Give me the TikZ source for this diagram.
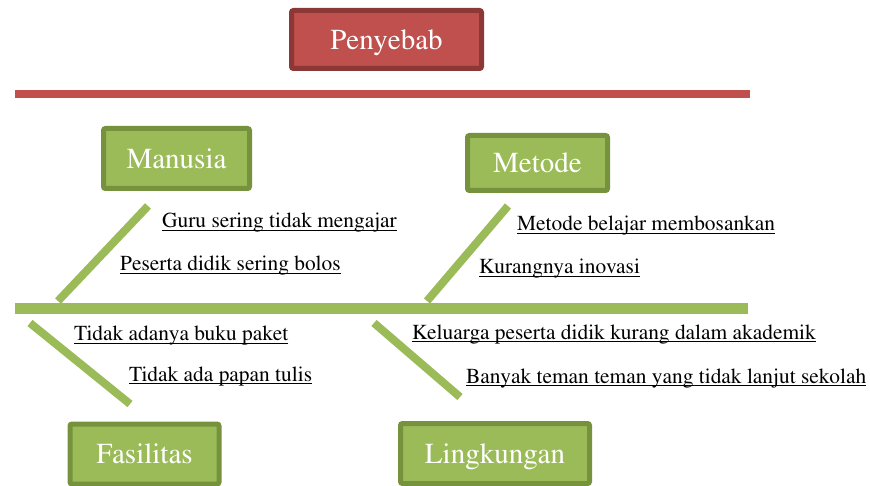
\documentclass[tikz,border=0pt]{standalone}
\usepackage[T1]{fontenc}
\usepackage{mathptmx}
\definecolor{redfill}{HTML}{C0504D}
\definecolor{redline}{HTML}{8C3836}
\definecolor{grfill}{HTML}{9BBB59}
\definecolor{grline}{HTML}{76923C}
\tikzset{
  boxbase/.style={line width=5pt, rounded corners=2pt, text=white,
    font=\rmfamily\fontsize{29}{32}\selectfont, text height=19.5pt, text depth=0pt,
    inner sep=0pt},
  headbox/.style={boxbase, draw=redline, fill=redfill},
  catbox/.style={boxbase, draw=grline, fill=grfill},
  bone/.style={draw=grfill, line width=8pt, line cap=butt},
  spine/.style={draw=grfill, line width=11pt, line cap=butt},
  redspine/.style={draw=redfill, line width=8pt, line cap=butt},
  cause/.style={anchor=base west, inner sep=0pt, text=black,
    font=\rmfamily\fontsize{21.4}{24}\selectfont},
  uline/.style={draw=black, line width=1.1pt},
}
\newcommand{\ulcause}[1]{\draw[uline] ([yshift=-2.6pt]#1.base west) -- ([yshift=-2.6pt]#1.base east);}
\begin{document}
\begin{tikzpicture}[x=1pt,y=-1pt]
\useasboundingbox (0,0) rectangle (870,486);
% head
\node[headbox, minimum width=190pt, minimum height=58pt] (head) at (386.5,39.5) {Penyebab};
% red line
\coordinate (r1) at (15,94);
\coordinate (r2) at (750,94);
\draw[redspine] (r1) -- (r2);
% main spine
\coordinate (s1) at (15,308.5);
\coordinate (s2) at (748,308.5);
\draw[spine] (s1) -- (s2);
% category boxes
\node[catbox, minimum width=146pt, minimum height=60pt] (manusia) at (176.5,158.5) {Manusia};
\node[catbox, minimum width=140pt, minimum height=55pt] (metode) at (537.5,163) {Metode};
\node[catbox, minimum width=149pt, minimum height=60pt] (fasilitas) at (144.5,454) {Fasilitas};
\node[catbox, minimum width=189pt, minimum height=60pt] (lingkungan) at (495,453.5) {Lingkungan};
% bones
\coordinate (m1) at (58,301);
\coordinate (m2) at (148,206);
\draw[bone] (m1) -- (m2);
\coordinate (t1) at (427,301);
\coordinate (t2) at (508,206);
\draw[bone] (t1) -- (t2);
\coordinate (f1) at (30,323);
\coordinate (f2) at (130,404);
\draw[bone] (f1) -- (f2);
\coordinate (l1) at (374,323);
\coordinate (l2) at (460,397);
\draw[bone] (l1) -- (l2);
% causes
\node[cause] (c1) at (162,228) {Guru sering tidak mengajar};
\node[cause] (c2) at (120,271) {Peserta didik sering bolos};
\node[cause] (c3) at (517,231) {Metode belajar membosankan};
\node[cause] (c4) at (479,274) {Kurangnya inovasi};
\node[cause] (c5) at (74,341) {Tidak adanya buku paket};
\node[cause] (c6) at (129,381) {Tidak ada papan tulis};
\node[cause] (c7) at (412,339) {Keluarga peserta didik kurang dalam akademik};
\node[cause] (c8) at (466,383) {Banyak teman teman yang tidak lanjut sekolah};
\ulcause{c1}\ulcause{c2}\ulcause{c3}\ulcause{c4}
\ulcause{c5}\ulcause{c6}\ulcause{c7}\ulcause{c8}
\end{tikzpicture}
\end{document}
